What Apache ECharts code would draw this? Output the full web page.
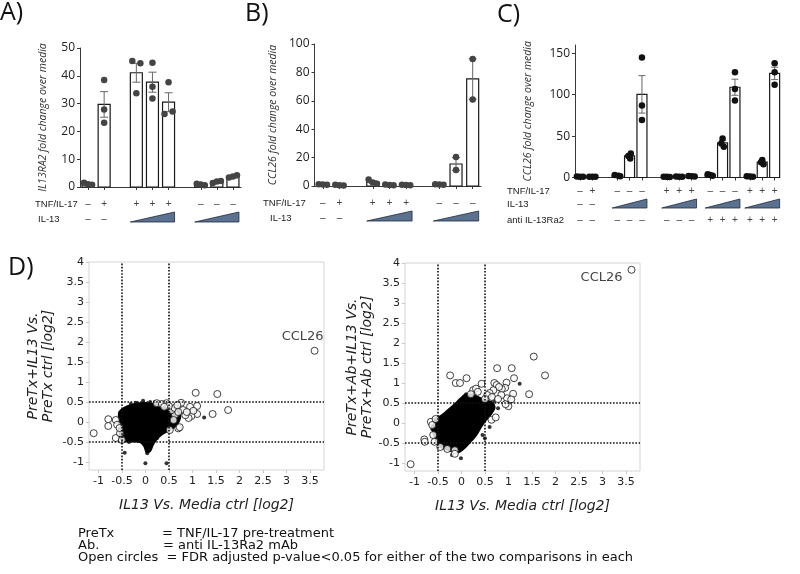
<!DOCTYPE html>
<html><head><meta charset="utf-8">
<script src="https://cdn.jsdelivr.net/npm/echarts@6/dist/echarts.min.js"></script>
<style>html,body{margin:0;padding:0;background:#fff}#c{width:800px;height:574px}</style>
</head><body><div id="c"></div>
<script>
// ================= DATA =================
// Panel A : IL13RA2 fold change over media
const aSlots = [0, 1, 3, 4, 5, 7, 8, 9];
const aMeans = [1.1, 29.7, 41.1, 37.7, 30.5, 0.9, 1.9, 3.7];
const aSem   = [0.2, 4.6, 3.4, 3.6, 3.4, 0.2, 0.3, 0.4];
// [bar index, value, horizontal jitter in slot units]
const aDots = [[0,1.5,-0.25],[0,1.0,0],[0,0.8,0.25],[1,38.5,0],[1,27.9,0],[1,23.1,0],
  [2,45.3,-0.25],[2,44.5,0.25],[2,33.7,0],[3,44.7,0],[3,36.1,0],[3,31.8,0],
  [4,37.7,0],[4,26.3,-0.25],[4,27.2,0.25],[5,1.2,-0.25],[5,0.9,0],[5,0.6,0.25],
  [6,1.4,-0.25],[6,2.0,0],[6,2.2,0.25],[7,3.4,-0.25],[7,3.8,0],[7,4.2,0.25]];
const aTnf  = ['–','+','+','+','+','–','–','–'];
const aIl13 = ['–','–','','','','','',''];
const aRamps = [[2,4],[5,7]];

// Panel B : CCL26 fold change over media
const bSlots = [0, 1, 3, 4, 5, 7, 8, 9];
const bMeans = [1.0, 0.6, 2.8, 0.8, 0.7, 1.0, 15.5, 75.4];
const bSem   = [0.2, 0.1, 0.9, 0.1, 0.1, 0.2, 4.5, 14.2];
const bDots = [[0,1.3,-0.25],[0,1.0,0],[0,0.8,0.25],[1,0.8,-0.25],[1,0.5,0],[1,0.4,0.25],
  [2,4.5,-0.25],[2,2.5,0],[2,1.5,0.25],[3,1.0,-0.25],[3,0.7,0],[3,0.6,0.25],
  [4,0.9,-0.25],[4,0.7,0],[4,0.5,0.25],[5,1.2,-0.25],[5,1.0,0],[5,0.8,0.25],
  [6,20.4,0],[6,11.3,0],[7,89.4,0],[7,61.0,0]];
const bTnf  = ['–','+','+','+','+','–','–','–'];
const bIl13 = ['–','–','','','','','',''];
const bRamps = [[2,4],[5,7]];

// Panel C : CCL26 fold change over media (with anti IL-13Ra2)
const cSlots = [0, 1, 3, 4, 5, 7, 8, 9, 10.5, 11.5, 12.5, 13.7, 14.7, 15.7];
const cMeans = [1.0, 0.9, 2.2, 26.0, 100.4, 0.8, 0.9, 1.5, 3.0, 41.7, 109.0, 1.2, 18.5, 125.7];
const cSem   = [0.2, 0.2, 0.5, 1.7, 22.6, 0.1, 0.2, 0.3, 0.6, 2.9, 9.7, 0.2, 1.4, 7.5];
const cDots = [[0,1.2,-0.25],[0,1.0,0],[0,0.8,0.25],[1,1.0,-0.25],[1,0.9,0],[1,0.8,0.25],
  [2,3.0,-0.2],[2,2.0,0.1],[2,1.5,0.25],[3,29,0.1],[3,26,-0.1],[3,23,0.05],
  [4,144.8,0],[4,87,0],[4,69.3,0],[5,1.0,-0.25],[5,0.8,0],[5,0.6,0.25],
  [6,1.1,-0.25],[6,0.9,0],[6,0.8,0.25],[7,1.8,-0.25],[7,1.5,0],[7,1.2,0.25],
  [8,4,-0.2],[8,3,0],[8,2,0.2],[9,47,0],[9,41,-0.1],[9,37,0.1],
  [10,127,0],[10,107,0],[10,93,0],[11,1.5,-0.25],[11,1.2,0],[11,1.0,0.25],
  [12,21,0],[12,18.5,-0.1],[12,16,0.1],[13,138,0],[13,127,0],[13,112,0]];
const cTnf  = ['–','+','–','–','–','+','+','+','–','–','–','+','+','+'];
const cIl13 = ['–','–','','','','','','','','','','','',''];
const cAb   = ['–','–','–','–','–','–','–','–','+','+','+','+','+','+'];
const cRamps = [[2,4],[5,7],[8,10],[11,13]];

// Panel D : log2 fold-change scatter plots
const dTicksX = [-1,-0.5,0,0.5,1,1.5,2,2.5,3,3.5];
const dTicksY = [-1,-0.5,0,0.5,1,1.5,2,2.5,3,3.5,4];
const thresholds = [-0.5, 0.5];
// dense cloud outlines (non-significant genes)
const cloudL = [[-0.55,0.25],[-0.45,0.35],[-0.3,0.42],[-0.15,0.46],[0.0,0.47],[0.15,0.45],[0.3,0.42],[0.45,0.38],[0.6,0.33],[0.7,0.28],[0.74,0.15],[0.7,0.0],[0.62,-0.12],[0.5,-0.2],[0.35,-0.3],[0.22,-0.45],[0.15,-0.58],[0.1,-0.72],[0.03,-0.75],[-0.02,-0.6],[-0.1,-0.5],[-0.25,-0.48],[-0.4,-0.48],[-0.52,-0.42],[-0.55,-0.2],[-0.56,0.05]];
const cloudR = [[-0.62,-0.05],[-0.58,0.08],[-0.45,0.16],[-0.3,0.3],[-0.15,0.45],[-0.02,0.6],[0.08,0.7],[0.22,0.7],[0.38,0.63],[0.52,0.56],[0.66,0.5],[0.7,0.38],[0.62,0.22],[0.52,0.08],[0.42,-0.08],[0.32,-0.28],[0.2,-0.45],[0.08,-0.6],[-0.05,-0.72],[-0.2,-0.7],[-0.35,-0.64],[-0.48,-0.58],[-0.55,-0.4],[-0.6,-0.22]];
const filledL = [[-0.44,-0.77],[0,-1.03],[0.45,-1.03],[-0.47,0.3],[-0.31,0.45],[-0.05,0.53],[0.1,0.5],[0.1,-0.66],[0.04,-0.78],[1.25,0.11],[0.03,-0.72],[0.2,0.5],[-0.2,0.48],[0.55,0.36],[0.65,0.3],[0.25,-0.4],[-0.35,-0.5]];
const openL = [[-1.1,-0.28],[-0.79,0.07],[-0.79,-0.1],[-0.63,0.05],[-0.6,-0.07],[-0.63,-0.4],[-0.54,-0.28],[-0.5,-0.45],[-0.55,-0.15],
  [1.07,0.73],[1.53,0.7],[1.76,0.3],[1.43,0.2],[1.1,0.4],[0.95,0.38],[0.76,0.48],[0.8,0.3],[1.1,0.2],[0.98,0.15],[0.92,0.1],[0.7,-0.16],[0.73,-0.13],[0.63,0.18],[0.45,0.47],[0.24,0.47],[0.56,0.3],[0.85,0.17],[1.02,0.28],[0.62,0.35],[0.68,0.42],[0.5,0.4],[0.35,0.45],[0.7,0.25],[0.88,0.25],[0.6,0.05],[0.52,-0.2],[0.4,0.38]];
const filledR = [[1.24,0.98],[-0.01,-0.88],[0.5,-0.38],[0.78,0.37],[0.6,-0.1],[0.45,-0.3],[-0.2,-0.8],[0.7,0.55],[0.1,0.72],[-0.62,-0.15]];
const openR = [[1.54,1.66],[1.78,1.19],[1.44,0.72],[0.76,1.37],[1.07,1.37],[1.12,1.12],[-0.24,1.19],[0.11,1.12],[-0.12,1.0],[-0.03,1.0],[0.43,0.98],[0.96,1.01],[0.93,0.88],[0.86,0.85],[1.1,0.73],[0.97,0.62],[1.06,0.59],[1.0,0.42],[0.94,0.47],[0.64,0.08],[0.73,0.14],[0.25,0.82],[0.31,0.86],[-0.65,0.03],[-0.62,-0.05],[-0.79,-0.41],[-0.78,-0.47],[-1.08,-1.03],[-0.6,-0.3],[-0.57,-0.47],[-0.14,-0.68],[-0.14,-0.77],[-0.3,-0.65],[0.7,1.0],[0.75,0.95],[0.8,0.9],[0.68,0.82],[0.6,0.75],[0.55,0.7],[0.65,0.65],[0.5,0.6],[0.35,0.78],[0.2,0.72],[0.85,0.7],[0.78,0.6],[-0.45,-0.6],[-0.55,0.1]];
const ccl26L = [3.6, 1.78];
const ccl26R = [3.62, 3.83];

// ================= CHART =================
const chart = echarts.init(document.getElementById('c'), null, {renderer: 'canvas'});
const FB = '"Open Sans"', FR = '"Liberation Sans"', FD = '"DejaVu Sans"';
const AX = '#3a3a3a';

function barAxisX(gi, min, max, slots) {
  return {type: 'value', gridIndex: gi, min: min, max: max, splitLine: {show: false},
    axisLine: {show: true, onZero: false, lineStyle: {color: AX, width: 1}},
    axisTick: {show: true, customValues: slots, length: 3, lineStyle: {color: AX}},
    axisLabel: {show: false}};
}
function barAxisY(gi, max, ticks, name, gap) {
  return {type: 'value', gridIndex: gi, min: 0, max: max, splitLine: {show: false},
    axisLine: {show: true, onZero: false, lineStyle: {color: AX, width: 1}},
    axisTick: {show: true, customValues: ticks, length: 3, lineStyle: {color: AX}},
    axisLabel: {customValues: ticks, margin: 5, color: '#222', fontFamily: 'Open Sans', fontSize: 12},
    name: name, nameLocation: 'middle', nameGap: gap,
    nameTextStyle: {fontFamily: 'Open Sans', fontStyle: 'italic', fontSize: 10.5, color: '#333'}};
}
function scAxisX(gi) {
  return {type: 'value', gridIndex: gi, min: -1.2, max: 3.8, splitLine: {show: false},
    axisLine: {show: false, onZero: false},
    axisTick: {show: true, customValues: dTicksX, length: 3, lineStyle: {color: '#c8c8c8'}},
    axisLabel: {customValues: dTicksX, margin: 6, color: '#222', fontFamily: 'DejaVu Sans', fontSize: 11},
    name: 'IL13 Vs. Media ctrl [log2]', nameLocation: 'middle', nameGap: 28,
    nameTextStyle: {fontFamily: 'DejaVu Sans', fontStyle: 'italic', fontSize: 14, color: '#222'}};
}
function scAxisY(gi, name, gap) {
  return {type: 'value', gridIndex: gi, min: -1.2, max: 4, splitLine: {show: false},
    axisLine: {show: false, onZero: false},
    axisTick: {show: true, customValues: dTicksY, length: 3, lineStyle: {color: '#c8c8c8'}},
    axisLabel: {customValues: dTicksY, margin: 5, color: '#222', fontFamily: 'DejaVu Sans', fontSize: 11},
    name: name, nameLocation: 'middle', nameGap: gap,
    nameTextStyle: {fontFamily: 'DejaVu Sans', fontStyle: 'italic', fontSize: 14, lineHeight: 15, color: '#222', align: 'center'}};
}

function barsSeries(ax, slots, means, w) {
  return {type: 'custom', xAxisIndex: ax, yAxisIndex: ax, clip: false, silent: true, z: 2,
    data: means.map((m, i) => [slots[i], m]),
    renderItem: (p, api) => {
      const t = api.coord([api.value(0), api.value(1)]);
      const b = api.coord([api.value(0), 0]);
      return {type: 'rect', shape: {x: t[0] - w / 2, y: t[1], width: w, height: b[1] - t[1]},
        style: {fill: '#fff', stroke: '#1a1a1a', lineWidth: 1.2}};
    }};
}
function errSeries(ax, slots, means, sem, cap) {
  return {type: 'custom', xAxisIndex: ax, yAxisIndex: ax, clip: false, silent: true, z: 3,
    data: means.map((m, i) => [slots[i], m - sem[i], m + sem[i]]),
    renderItem: (p, api) => {
      const lo = api.coord([api.value(0), api.value(1)]);
      const hi = api.coord([api.value(0), api.value(2)]);
      const st = {stroke: '#666', lineWidth: 1};
      return {type: 'group', children: [
        {type: 'line', shape: {x1: lo[0], y1: lo[1], x2: hi[0], y2: hi[1]}, style: st},
        {type: 'line', shape: {x1: lo[0] - cap, y1: lo[1], x2: lo[0] + cap, y2: lo[1]}, style: st},
        {type: 'line', shape: {x1: hi[0] - cap, y1: hi[1], x2: hi[0] + cap, y2: hi[1]}, style: st}]};
    }};
}
function dotSeries(ax, slots, dots, color) {
  return {type: 'scatter', xAxisIndex: ax, yAxisIndex: ax, silent: true, z: 4,
    symbolSize: 6.5, itemStyle: {color: color, opacity: 1},
    data: dots.map(d => [slots[d[0]] + d[2], d[1]])};
}
// rows: [[offsetBelowBaseline, signsArray], ...]; ramps drawn on rampRow offset
function rowSeries(ax, slots, rows, ramps, rampRow, w, wh, wb) {
  return {type: 'custom', xAxisIndex: ax, yAxisIndex: ax, clip: false, silent: true, z: 5,
    data: [[0, 0]],
    renderItem: (p, api) => {
      const kids = [];
      rows.forEach(r => {
        r[1].forEach((s, i) => {
          if (!s) return;
          const c = api.coord([slots[i], 0]);
          kids.push({type: 'text', x: c[0], y: c[1] + r[0],
            style: {text: s, font: '10px ' + FR, fill: '#444', align: 'center', verticalAlign: 'middle',
              textAlign: 'center', textVerticalAlign: 'middle'}});
        });
      });
      ramps.forEach(rg => {
        const c0 = api.coord([slots[rg[0]], 0]);
        const c1 = api.coord([slots[rg[1]], 0]);
        const yb = c0[1] + rampRow + wb;
        kids.push({type: 'polygon', shape: {points: [[c0[0] - w / 2, yb], [c1[0] + w / 2, yb], [c1[0] + w / 2, yb - wh]]},
          style: {fill: '#5b7190', stroke: '#1f2b3b', lineWidth: 0.8}});
      });
      return {type: 'group', children: kids};
    }};
}
function cloudSeries(ax, pts) {
  return {type: 'custom', xAxisIndex: ax, yAxisIndex: ax, clip: true, silent: true, z: 2,
    data: [[0, 0]],
    renderItem: (p, api) => ({type: 'polygon',
      shape: {points: pts.map(v => api.coord(v)), smooth: 0.25},
      style: {fill: '#000', stroke: '#000', lineWidth: 2.5, lineJoin: 'round'}})};
}
function thresholdLines() {
  const ls = {type: 'dotted', color: '#111', width: 1.6};
  return {silent: true, symbol: 'none', label: {show: false}, lineStyle: ls, animation: false,
    data: thresholds.map(t => ({xAxis: t})).concat(thresholds.map(t => ({yAxis: t})))};
}

function txt(x, y, s, font, extra) {
  return {type: 'text', x: x, y: y, silent: true,
    style: Object.assign({text: s, font: font, fill: '#222', align: 'left', verticalAlign: 'middle',
      textAlign: 'left', textVerticalAlign: 'middle'}, extra || {})};
}

const option = {
  animation: false,
  grid: [
    {left: 80, top: 48, width: 161, height: 139},
    {left: 314.5, top: 44, width: 166.5, height: 142},
    {left: 575, top: 45, width: 204.6, height: 132.5},
    {left: 89, top: 262, width: 235, height: 208, show: true, borderColor: '#d4d4d4', borderWidth: 1},
    {left: 405, top: 263, width: 235, height: 208, show: true, borderColor: '#d4d4d4', borderWidth: 1}
  ],
  xAxis: [
    barAxisX(0, -0.5, 9.5, aSlots),
    barAxisX(1, -0.5, 9.5, bSlots),
    barAxisX(2, -0.4, 16.1, cSlots),
    scAxisX(3),
    scAxisX(4)
  ],
  yAxis: [
    barAxisY(0, 50, [0,10,20,30,40,50], 'IL13RA2 fold change over media', 31),
    barAxisY(1, 100, [0,20,40,60,80,100], 'CCL26 fold change over media', 36),
    barAxisY(2, 160, [0,50,100,150], 'CCL26 fold change over media', 41),
    scAxisY(3, 'PreTx+IL13 Vs.\nPreTx ctrl [log2]', 33),
    scAxisY(4, 'PreTx+Ab+IL13 Vs.\nPreTx+Ab ctrl [log2]', 26)
  ],
  series: [
    barsSeries(0, aSlots, aMeans, 12), errSeries(0, aSlots, aMeans, aSem, 4), dotSeries(0, aSlots, aDots, '#444'),
    rowSeries(0, aSlots, [[17, aTnf], [32, aIl13]], aRamps, 32, 12, 10, 3),
    barsSeries(1, bSlots, bMeans, 12), errSeries(1, bSlots, bMeans, bSem, 4), dotSeries(1, bSlots, bDots, '#444'),
    rowSeries(1, bSlots, [[17, bTnf], [32, bIl13]], bRamps, 32, 12, 10, 3),
    barsSeries(2, cSlots, cMeans, 10), errSeries(2, cSlots, cMeans, cSem, 3.5), dotSeries(2, cSlots, cDots, '#111'),
    rowSeries(2, cSlots, [[14, cTnf], [27, cIl13], [43, cAb]], cRamps, 27, 10, 9, 3.5),
    // D left
    cloudSeries(3, cloudL),
    {type: 'scatter', xAxisIndex: 3, yAxisIndex: 3, silent: true, z: 3, symbolSize: 4, itemStyle: {color: '#000'}, data: filledL},
    {type: 'scatter', xAxisIndex: 3, yAxisIndex: 3, silent: true, z: 4, symbolSize: 7,
      itemStyle: {color: '#fff', borderColor: '#111', borderWidth: 1}, data: openL, markLine: thresholdLines()},
    {type: 'scatter', xAxisIndex: 3, yAxisIndex: 3, silent: true, z: 4, symbolSize: 7,
      itemStyle: {color: '#fff', borderColor: '#111', borderWidth: 1}, data: [ccl26L],
      label: {show: true, formatter: 'CCL26', position: 'top', offset: [-12, 1], fontFamily: 'DejaVu Sans', fontSize: 13, color: '#111'}},
    // D right
    cloudSeries(4, cloudR),
    {type: 'scatter', xAxisIndex: 4, yAxisIndex: 4, silent: true, z: 3, symbolSize: 4, itemStyle: {color: '#000'}, data: filledR},
    {type: 'scatter', xAxisIndex: 4, yAxisIndex: 4, silent: true, z: 4, symbolSize: 7,
      itemStyle: {color: '#fff', borderColor: '#111', borderWidth: 1}, data: openR, markLine: thresholdLines()},
    {type: 'scatter', xAxisIndex: 4, yAxisIndex: 4, silent: true, z: 4, symbolSize: 7,
      itemStyle: {color: '#fff', borderColor: '#111', borderWidth: 1}, data: [ccl26R],
      label: {show: true, formatter: 'CCL26', position: 'left', distance: 5, offset: [0, 8], fontFamily: 'DejaVu Sans', fontSize: 13, color: '#111'}}
  ],
  graphic: {elements: [
    txt(0, 13, 'A)', '25px ' + FB, {fill: '#111'}),
    txt(245, 14, 'B)', '25px ' + FB, {fill: '#111'}),
    txt(497, 15, 'C)', '25px ' + FB, {fill: '#111'}),
    txt(8, 268, 'D)', '25px ' + FB, {fill: '#111'}),
    txt(35, 204, 'TNF/IL-17', '9.5px ' + FR),
    txt(38, 219, 'IL-13', '9.5px ' + FR),
    txt(263, 203, 'TNF/IL-17', '9.5px ' + FR),
    txt(270, 218, 'IL-13', '9.5px ' + FR),
    txt(507, 191.5, 'TNF/IL-17', '9.5px ' + FR),
    txt(507, 204.5, 'IL-13', '9.5px ' + FR),
    txt(507, 220.5, 'anti IL-13Ra2', '9.5px ' + FR),
    txt(78, 534, 'PreTx', '13px ' + FD, {fill: '#111'}),
    txt(162, 534, '= TNF/IL-17 pre-treatment', '13px ' + FD, {fill: '#111'}),
    txt(78, 546, 'Ab.', '13px ' + FD, {fill: '#111'}),
    txt(163, 546, '= anti IL-13Ra2 mAb', '13px ' + FD, {fill: '#111'}),
    txt(78, 558, 'Open circles  = FDR adjusted p-value<0.05 for either of the two comparisons in each', '13px ' + FD, {fill: '#111'})
  ]}
};
chart.setOption(option);
</script>
</body></html>
